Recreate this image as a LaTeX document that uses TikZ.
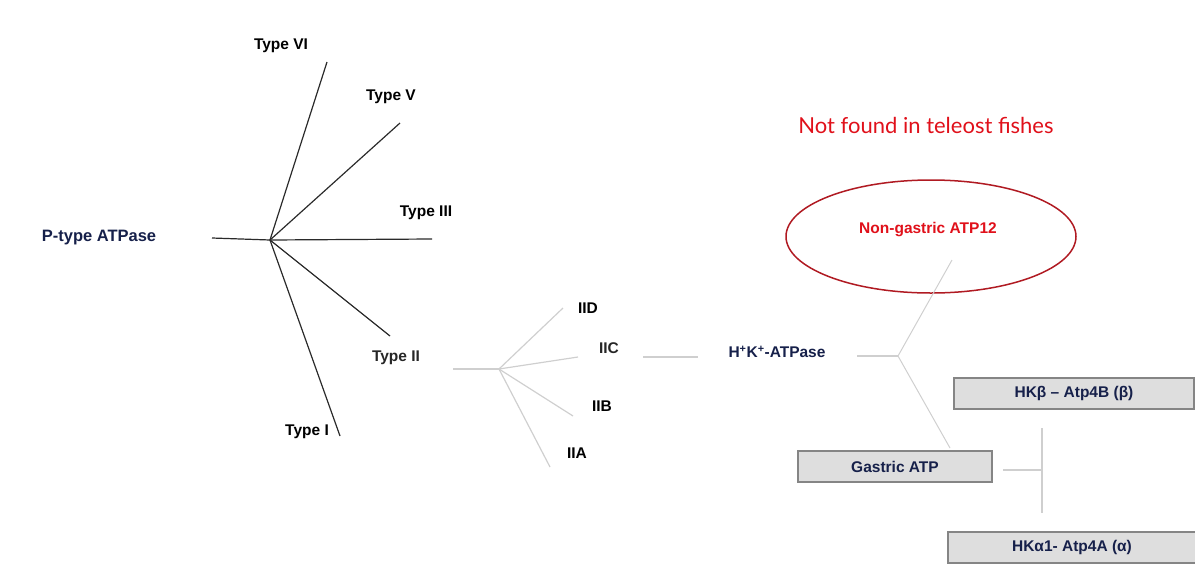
\documentclass[tikz,border=0pt]{standalone}
\usepackage{fontspec}
\setmainfont{Liberation Sans}
\newfontfamily\gillfont{Lato}
\usetikzlibrary{shapes.geometric}
\definecolor{navy}{HTML}{16204A}
\definecolor{darkline}{HTML}{2A2A2A}
\definecolor{lightline}{HTML}{CFCFCF}
\definecolor{boxfill}{HTML}{DEDEDE}
\definecolor{boxline}{HTML}{858585}
\definecolor{redtext}{HTML}{E0101A}
\definecolor{ellred}{HTML}{B01A22}
\definecolor{typetwo}{HTML}{262626}
\begin{document}
\begin{tikzpicture}[x=1pt,y=-1pt,
  lbl/.style={font=\bfseries\fontsize{15.5}{18}\selectfont, inner sep=0pt},
  navylbl/.style={lbl, text=navy},
  dline/.style={draw=darkline, line width=1.2pt},
  lline/.style={draw=lightline, line width=1.2pt},
  gbox/.style={draw=boxline, fill=boxfill, line width=2.5pt, minimum height=31pt, inner sep=0pt, font=\bfseries\fontsize{15.5}{18}\selectfont, text=navy}]
\useasboundingbox (0,0) rectangle (1195,563);

% root
\node[navylbl, font=\bfseries\fontsize{16.5}{19}\selectfont] (ptype) at (99,238) {P-type ATPase};
\coordinate (root) at (212,238);
\coordinate (hub) at (270,240);
\coordinate (e6) at (327,62);
\coordinate (e5) at (400,123);
\coordinate (e3) at (432,239);
\coordinate (e2) at (390,336);
\coordinate (e1) at (340,436);
\node[lbl] (t6) at (281,46) {Type VI};
\node[lbl] (t5) at (391,97) {Type V};
\node[lbl] (t3) at (426,213) {Type III};
\node[lbl, text=typetwo] (t2) at (396,358) {Type II};
\node[lbl] (t1) at (307,432) {Type I};
\draw[dline] (root) -- (hub);
\foreach \e in {e6,e5,e3,e2,e1} \draw[dline] (hub) -- (\e);

% type II subtree
\coordinate (s2) at (453,369);
\coordinate (hub2) at (499,369);
\coordinate (fD) at (563,308);
\coordinate (fC) at (578,357);
\coordinate (fB) at (573,416);
\coordinate (fA) at (550,467);
\node[lbl] (iid) at (588,308) {IID};
\node[lbl, text=typetwo] (iic) at (609,348) {IIC};
\node[lbl] (iib) at (602,406) {IIB};
\node[lbl] (iia) at (577,453) {IIA};
\draw[lline] (s2) -- (hub2);
\foreach \e in {fD,fC,fB,fA} \draw[lline] (hub2) -- (\e);

% H+K+ ATPase
\node[navylbl] (hk) at (777,352) {H\textsuperscript{+}K\textsuperscript{+}-ATPase};
\coordinate (c1) at (643,357);
\coordinate (c2) at (698,357);
\draw[lline] (c1) -- (c2);
\coordinate (h1) at (857,356);
\coordinate (hub3) at (898,356);
\draw[lline] (h1) -- (hub3);

% non-gastric
\node[text=redtext, font=\gillfont\fontsize{22}{26}\selectfont, inner sep=0pt] (nf) at (926,125) {Not found in teleost fishes};
\node[ellipse, draw=ellred, line width=1.5pt, minimum width=290pt, minimum height=113pt, inner sep=0pt] (ell) at (931,236.5) {};
\node[lbl, text=redtext] (ng) at (928,230) {Non-gastric ATP12};
\coordinate (ngend) at (952,260);
\draw[lline, line width=1pt] (hub3) -- (ngend);

% gastric
\node[gbox, minimum width=194pt] (gas) at (895,466.5) {Gastric ATP};
\coordinate (gtop) at (950,448);
\draw[lline, line width=1pt] (hub3) -- (gtop);
\node[gbox, minimum width=240pt] (hkb) at (1074,393.5) {HKβ – Atp4B (β)};
\node[gbox, minimum width=248pt] (hka) at (1072,547.5) {HKα1- Atp4A (α)};
\coordinate (g1) at (1003,470);
\coordinate (g2) at (1042,470);
\coordinate (v1) at (1042,428);
\coordinate (v2) at (1042,513);
\draw[lline] (g1) -- (g2);
\draw[lline] (v1) -- (v2);
\end{tikzpicture}
\end{document}
